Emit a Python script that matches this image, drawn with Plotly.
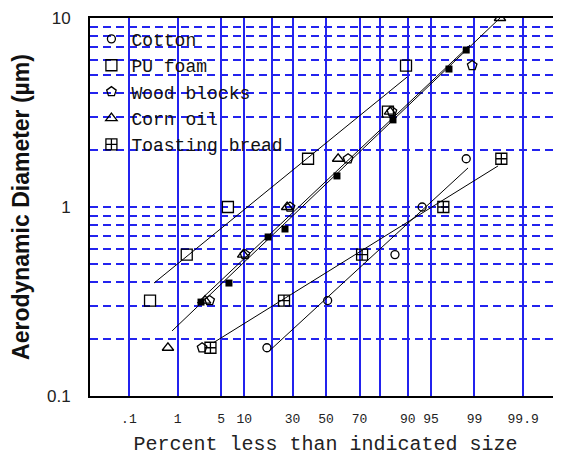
from statistics import NormalDist
import plotly.graph_objects as go

# ---------------- data (percent less than size, aerodynamic diameter um) -------------
cotton_pct = [17.7, 51.0, 86.0, 93.4, 98.6]
cotton_d = [0.18, 0.32, 0.56, 1.0, 1.8]

pu_pct = [0.29, 1.45, 6.2, 38.9, 83.4, 89.5]
pu_d = [0.32, 0.56, 1.0, 1.8, 3.2, 5.6]

wood_pct = [2.6, 3.4, 10.2, 28.6, 63.5, 84.9, 98.9]
wood_d = [0.18, 0.32, 0.56, 1.0, 1.8, 3.2, 5.6]

corn_pct = [0.66, 2.9, 9.7, 27.1, 57.5, 84.2, 99.68]
corn_d = [0.18, 0.32, 0.56, 1.0, 1.8, 3.2, 10.0]

bread_pct = [3.5, 25.5, 71.4, 96.7, 99.7]
bread_d = [0.18, 0.32, 0.56, 1.0, 1.8]

filled_pct = [2.5, 6.4, 18.2, 26.0, 56.8, 85.3, 97.3, 98.6]
filled_d = [0.314, 0.396, 0.694, 0.765, 1.46, 2.89, 5.37, 6.77]

# fitted lines: (start pct, end pct), (start d, end d)
fit_pu_pct, fit_pu_d = [0.35, 89.8], [0.396, 4.87]
fit_cotton_pct, fit_cotton_d = [18.2, 98.7], [0.171, 1.61]
fit_bread_pct, fit_bread_d = [3.83, 99.65], [0.191, 1.65]
fit_corn_pct, fit_corn_d = [0.79, 99.68], [0.221, 10.0]
fit_wood_pct, fit_wood_d = [2.16, 98.8], [0.310, 7.2]

x_tick_pct = [0.1, 1, 5, 10, 20, 30, 50, 70, 80, 90, 95, 99, 99.9]
x_tick_text = [".1", "1", "5", "10", "", "30", "50", "70", "", "90", "95", "99", "99.9"]
y_tick_vals = [0.1, 0.2, 0.3, 0.4, 0.5, 0.6, 0.7, 0.8, 0.9,
               1, 2, 3, 4, 5, 6, 7, 8, 9, 10]
y_tick_text = ["0.1"] + [""] * 8 + ["1"] + [""] * 8 + ["10"]

nd = NormalDist()


def probit(pcts):
    return [nd.inv_cdf(p / 100.0) for p in pcts]


fig = go.Figure()

series = [
    ("Cotton", cotton_pct, cotton_d, "circle-open", 8),
    ("PU foam", pu_pct, pu_d, "square-open", 11),
    ("Wood blocks", wood_pct, wood_d, "pentagon-open", 10),
    ("Corn oil", corn_pct, corn_d, "triangle-up-open", 10),
    ("Toasting bread", bread_pct, bread_d, "square-cross-open", 11),
]

fits = [
    (fit_pu_pct, fit_pu_d),
    (fit_cotton_pct, fit_cotton_d),
    (fit_bread_pct, fit_bread_d),
    (fit_corn_pct, fit_corn_d),
    (fit_wood_pct, fit_wood_d),
]
for fp, fd in fits:
    fig.add_trace(go.Scatter(x=probit(fp), y=fd, mode="lines",
                             line=dict(color="black", width=1),
                             showlegend=False, hoverinfo="skip"))

fig.add_trace(go.Scatter(x=probit(filled_pct), y=filled_d, mode="markers",
                         marker=dict(symbol="square", size=7, color="black"),
                         showlegend=False))

for i, (name, p, d, sym, sz) in enumerate(series):
    fig.add_trace(go.Scatter(x=probit(p), y=d, mode="markers", name=name,
                             legendgroup=f"g{i}",
                             marker=dict(symbol=sym, size=sz, color="black",
                                         line=dict(color="black", width=1.3))))

grid_blue = "#2323ee"

fig.update_layout(
    width=553, height=455,
    margin=dict(l=82, r=0, t=10, b=67, autoexpand=False),
    paper_bgcolor="white", plot_bgcolor="white",
    font=dict(family="Liberation Sans", color="#111111"),
    showlegend=True,
    legend=dict(x=0.003, y=0.993, xanchor="left", yanchor="top",
                bgcolor="rgba(0,0,0,0)", borderwidth=0,
                traceorder="grouped", tracegroupgap=0,
                font=dict(family="Liberation Mono", size=18, color="#111111")),
    xaxis=dict(
        range=[-3.70, 3.683],
        automargin=False,
        tickmode="array",
        tickvals=probit(x_tick_pct),
        ticktext=x_tick_text,
        ticks="",
        showgrid=True, gridcolor=grid_blue, gridwidth=2,
        showline=True, linecolor="black", linewidth=2, mirror=True,
        zeroline=False,
        ticklabelstandoff=9,
        tickfont=dict(family="Liberation Mono", size=13, color="#222222"),
        title=dict(text="Percent less than indicated size",
                   font=dict(family="Liberation Mono", size=20, color="#222222"),
                   standoff=10),
    ),
    yaxis=dict(
        type="log",
        range=[-1, 1],
        automargin=False,
        tickmode="array",
        tickvals=y_tick_vals,
        ticktext=y_tick_text,
        ticks="",
        showgrid=True, gridcolor=grid_blue, gridwidth=1.6, griddash="8px,5px",
        showline=True, linecolor="black", linewidth=2, mirror=False,
        zeroline=False,
        ticklabelstandoff=14,
        tickfont=dict(family="Liberation Sans", size=17, color="#222222"),
        title=dict(text="<b>Aerodynamic Diameter (µm)</b>",
                   font=dict(family="Liberation Sans", size=23, color="#111111"),
                   standoff=11),
    ),
)

fig.write_html("out.html")
